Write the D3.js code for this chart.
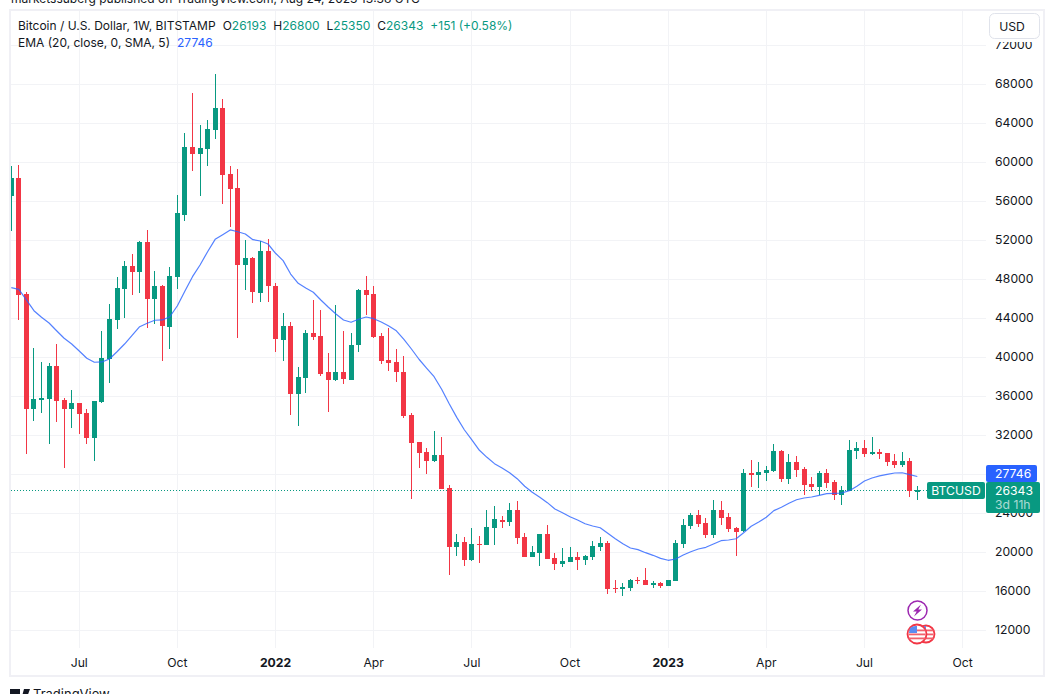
<!DOCTYPE html>
<html>
<head>
<meta charset="utf-8">
<script src="https://cdnjs.cloudflare.com/ajax/libs/d3/7.8.5/d3.min.js"></script>
<style>
  html, body { margin: 0; padding: 0; background: #fff; overflow: hidden; }
  text { font-family: Inter, "Noto Sans", sans-serif; fill: #131722; }
</style>
</head>
<body>
<svg id="chart" width="1054" height="694"></svg>
<script>
// weekly BTCUSD candles
var opens = [56510,58360,46460,34670,35590,35690,39080,35590,34670,35280,34260,31690,35380,39800,43800,46970,49330,48720,51800,45950,47280,43080,48200,54560,61540,60820,61330,63280,65540,58770,57330,49440,50150,46560,50870,47280,41740,43180,36200,37850,42460,42150,38460,37640,38460,37640,41230,46870,46460,42150,39690,39490,38460,34050,31280,30260,29330,29950,26560,20510,21030,19180,20820,20720,22460,23280,23080,24310,21540,19490,19900,21850,19380,18770,18970,19490,19180,19490,20510,20920,16310,16200,16310,17130,17130,16620,16820,16510,17030,20820,22670,23790,22970,21750,24310,23590,22460,22150,28100,27900,28100,28310,30360,27490,29230,28510,26970,26670,28100,27180,25850,26260,30360,30670,30050,30260,30150,29330,28920,29330,26193];
var highs = [59590,59690,46670,40920,39490,39380,41330,35790,36620,35280,34670,35490,42670,45440,48200,49850,50560,51900,53030,48820,47380,49230,56620,62970,67080,63800,64310,69030,66460,59590,59280,52000,50260,51900,52100,47590,44510,43590,38970,42770,45850,44820,40410,45330,42670,42460,46970,48310,47280,42460,42970,40820,40100,34260,31280,30670,32410,31790,26870,21850,21540,22460,21640,24310,24720,23690,25030,25230,21950,20620,21850,22770,19900,20410,20510,20000,19690,21130,21540,21130,17130,16820,17230,17440,18360,17030,16920,17130,21230,23380,24000,24310,23490,25330,25230,24000,22560,28510,29440,29230,28820,31080,30460,30050,29850,28720,27690,28310,28510,27390,26770,31490,31280,31490,31790,30560,30150,30050,30260,29640,26800];
var lows = [52920,43800,30050,33440,34260,31080,33330,28620,32720,32100,31080,29330,35280,37330,42870,44000,46360,46560,42970,43380,39590,40820,46970,53950,59080,56510,59590,62360,55690,53330,41950,46870,45540,45640,45640,40510,39590,34050,32920,36310,41740,38050,34360,37540,37230,37640,40510,44310,41950,39280,38560,37440,33740,25440,28620,28000,29230,26460,17640,19590,18560,19080,18870,20720,20720,22460,22670,20820,19490,19490,18560,19280,18150,18460,18970,18150,18670,19180,20100,15690,15790,15490,16000,16720,16620,16310,16310,16510,17030,20410,22360,22560,21440,21440,22770,22050,19590,22050,26670,26560,27280,28210,27180,26970,27690,25850,26260,25850,26560,25330,24820,26260,29540,29740,29950,29540,28820,28620,28720,25640,25350];
var closes = [58360,46360,34670,35690,35790,39080,35490,34670,35280,34150,31690,35490,39900,43900,47080,49330,48720,51800,45950,47280,43180,48310,54770,61540,60820,61440,63380,65540,58670,57230,49440,50150,46670,50870,47280,41850,43180,36200,37950,42460,42050,38260,37640,38460,37740,41230,46870,46360,42050,39590,39380,38460,33950,31180,30150,29330,29950,26460,20510,21030,19180,20820,20720,22560,23380,23080,24310,21440,19490,20000,21850,19280,18770,19080,19490,19180,19590,20620,20920,16200,16200,16410,17130,17030,16620,16820,16510,17130,20920,22770,23790,22870,21750,24310,23490,22360,22050,28100,27900,28210,28410,30360,27490,29230,28410,26870,26670,28100,27080,25850,26360,30460,30670,30050,30260,30050,29230,28920,29330,26260,26343];
var ema = [47110,46940,45850,44750,44070,43490,42690,41920,41330,40610,39870,39460,39490,39800,40540,41330,42220,43110,43460,43770,43800,44130,45260,46770,48240,49440,50800,52070,52540,53030,52850,52620,52030,51900,51590,50640,49880,48510,47560,47080,46640,45850,45100,44410,43800,43560,43870,44100,43930,43590,43180,42690,41810,40820,39770,38870,37980,36690,35210,33810,32540,31490,30430,29710,29060,28620,28130,27520,26740,26120,25610,25060,24410,24030,23620,23280,22900,22670,22490,21920,21360,20850,20410,20240,19930,19660,19350,19150,19280,19690,20030,20310,20480,20820,21160,21230,21360,21980,22640,23080,23560,24240,24590,25000,25360,25540,25640,25810,25980,26020,26050,26290,26740,27280,27590,27800,27970,28100,28130,27930,27746];

var priceTicks = [12000,16000,20000,24000,28000,32000,36000,40000,44000,48000,52000,56000,60000,64000,68000,72000];
var timeTicks = [9,22,35,48,61,74,87,100,113,126];
var timeLabels = ["Jul","Oct","2022","Apr","Jul","Oct","2023","Apr","Jul","Oct"];
var lastPrice = 26343, lastEma = 27746;

var GREEN = "#089981", RED = "#f23645", BLUE = "#2962ff", GRID = "#f2f3f6";
// pane edges
var paneL = 11, paneR = 986, paneT = 11, paneB = 648;

var svg = d3.select("#chart");

var x = d3.scaleLinear().domain([0, 126]).range([11.3, 962.6]);
var y = d3.scaleLinear().domain([12000, 72000]).range([630, 45]);

// clip so first candle gets cut by the pane edge
svg.append("clipPath").attr("id", "pane").append("rect")
    .attr("x", paneL).attr("y", paneT).attr("width", paneR - paneL).attr("height", paneB - paneT);

// grid
svg.append("g").selectAll("line").data(priceTicks).enter().append("line")
    .attr("x1", paneL).attr("x2", paneR)
    .attr("y1", function(d) { return Math.round(y(d)) + 0.5; })
    .attr("y2", function(d) { return Math.round(y(d)) + 0.5; })
    .attr("stroke", GRID);
svg.append("g").selectAll("line").data(timeTicks).enter().append("line")
    .attr("y1", paneT).attr("y2", paneB)
    .attr("x1", function(d) { return Math.floor(x(d)) + 0.5; })
    .attr("x2", function(d) { return Math.floor(x(d)) + 0.5; })
    .attr("stroke", GRID);

var pane = svg.append("g").attr("clip-path", "url(#pane)");

// last price dotted line, sits under the candles
pane.append("line")
    .attr("x1", paneL).attr("x2", 928)
    .attr("y1", Math.round(y(lastPrice)) + 0.5).attr("y2", Math.round(y(lastPrice)) + 0.5)
    .attr("stroke", GREEN).attr("stroke-dasharray", "1 2");

var candles = pane.append("g").selectAll("g").data(d3.range(opens.length)).enter().append("g")
    .attr("fill", function(i) { return closes[i] >= opens[i] ? GREEN : RED; });

candles.append("rect")
    .attr("x", function(i) { return Math.floor(x(i)); })
    .attr("width", 1)
    .attr("y", function(i) { return Math.round(y(highs[i])); })
    .attr("height", function(i) { return Math.max(1, Math.round(y(lows[i])) - Math.round(y(highs[i]))); });

candles.append("rect")
    .attr("x", function(i) { return Math.floor(x(i)) - 2; })
    .attr("width", 5)
    .attr("y", function(i) { return Math.round(y(Math.max(opens[i], closes[i]))); })
    .attr("height", function(i) { return Math.max(1, Math.round(y(Math.min(opens[i], closes[i]))) - Math.round(y(Math.max(opens[i], closes[i])))); });

var emaLine = d3.line()
    .x(function(d, i) { return x(i); })
    .y(function(d) { return y(d); });

pane.append("path").datum(ema)
    .attr("d", emaLine)
    .attr("fill", "none")
    .attr("stroke", BLUE)
    .attr("stroke-opacity", 0.8)
    .attr("stroke-width", 1.2)
    .attr("stroke-linejoin", "round");

// price axis labels
svg.append("g").selectAll("text").data(priceTicks).enter().append("text")
    .attr("x", 995).attr("y", function(d) { return y(d); })
    .attr("dy", "0.36em")
    .style("font-size", "12.2px")
    .text(function(d) { return d; });

// time axis labels
svg.append("g").selectAll("text").data(timeTicks).enter().append("text")
    .attr("x", function(d) { return x(d); }).attr("y", 666.5)
    .attr("text-anchor", "middle")
    .style("font-size", "12.2px")
    .style("font-weight", function(d, i) { return /^\d/.test(timeLabels[i]) ? 700 : 400; })
    .text(function(d, i) { return timeLabels[i]; });

// frame
svg.append("rect")
    .attr("x", 10).attr("y", 10).attr("width", 1034).attr("height", 666)
    .attr("fill", "none").attr("stroke", "#f0f0f5").attr("stroke-width", 2);

// header
var hdr = svg.append("text").attr("x", 18).attr("y", 30).style("font-size", "12px");
hdr.append("tspan").text("Bitcoin / U.S. Dollar, 1W, BITSTAMP");
[["O", "26193"], ["H", "26800"], ["L", "25350"], ["C", "26343"]].forEach(function(p) {
  hdr.append("tspan").attr("dx", 7).text(p[0]);
  hdr.append("tspan").style("fill", GREEN).text(p[1]);
});
hdr.append("tspan").attr("dx", 7).style("fill", GREEN).text("+151 (+0.58%)");

var hdr2 = svg.append("text").attr("x", 18).attr("y", 47).style("font-size", "12px");
hdr2.append("tspan").text("EMA (20, close, 0, SMA, 5)");
hdr2.append("tspan").attr("dx", 7).style("fill", BLUE).text(lastEma);

// published line, cut by the top of the picture
svg.append("text").attr("x", 11).attr("y", 3).style("font-size", "12px")
    .text("marketssuberg published on TradingView.com, Aug 24, 2023 13:38 UTC");

// USD button, its white margin hides the top of the 72000 label
svg.append("rect").attr("x", 989).attr("y", 13).attr("width", 51).attr("height", 29).attr("fill", "#fff");
svg.append("rect").attr("x", 989.5).attr("y", 13.5).attr("width", 50).attr("height", 25).attr("rx", 5)
    .attr("fill", "#fff").attr("stroke", "#e0e3eb");
svg.append("text").attr("x", 1012).attr("y", 31).attr("text-anchor", "middle")
    .style("font-size", "12.2px").text("USD");

// price tags
svg.append("rect").attr("x", 986).attr("y", 465).attr("width", 51).attr("height", 17).attr("rx", 2).attr("fill", BLUE);
svg.append("text").attr("x", 995).attr("y", 478).style("font-size", "12.2px").style("fill", "#fff").text(lastEma);

svg.append("rect").attr("x", 986).attr("y", 482).attr("width", 54).attr("height", 31).attr("rx", 2).attr("fill", GREEN);
svg.append("text").attr("x", 995).attr("y", 495).style("font-size", "12.2px").style("fill", "#fff").text(lastPrice);
svg.append("text").attr("x", 995).attr("y", 509).style("font-size", "12.2px").style("fill", "#fff").style("opacity", 0.65).text("3d 11h");

svg.append("rect").attr("x", 927).attr("y", 482).attr("width", 58).attr("height", 17).attr("rx", 2).attr("fill", GREEN);
svg.append("text").attr("x", 956).attr("y", 495).attr("text-anchor", "middle")
    .style("font-size", "12.2px").style("fill", "#fff").text("BTCUSD");

// event icons
var bolt = svg.append("g").attr("transform", "translate(917.5,610.5)");
bolt.append("circle").attr("r", 9.5).attr("fill", "#fff").attr("stroke", "#9c27b0").attr("stroke-width", 1.5);
bolt.append("path").attr("d", "M3.5,-6 L-4.5,1 L-0.8,1 L-3.5,6 L4.5,-1 L0.8,-1 Z").attr("fill", "#9c27b0");

[[926, 8.5], [917, 9.5]].forEach(function(f) {
  var g = svg.append("g").attr("transform", "translate(" + f[0] + ",634)");
  g.append("circle").attr("r", f[1]).attr("fill", "#fff").attr("stroke", RED).attr("stroke-width", 1.8);
  [-4, 0, 4].forEach(function(o) {
    g.append("rect").attr("x", -f[1] + 1).attr("y", o - 0.5).attr("width", 2 * f[1] - 2).attr("height", 1.8).attr("fill", "#f2606c");
  });
  g.append("path").attr("d", "M-7,-6 A9,9 0 0 1 0,-8 L0,-1 L-8,-1 Z").attr("fill", "#5b8bf0");
});

// TradingView mark, cut by the bottom of the picture
svg.append("path").attr("d", "M10,689 H20 V700 H15 V694 H10 Z M24,689 L30,689 L26,700 L21,700 Z").attr("fill", "#131722");
svg.append("text").attr("x", 33).attr("y", 699).style("font-size", "13px").text("TradingView");
</script>
</body>
</html>
